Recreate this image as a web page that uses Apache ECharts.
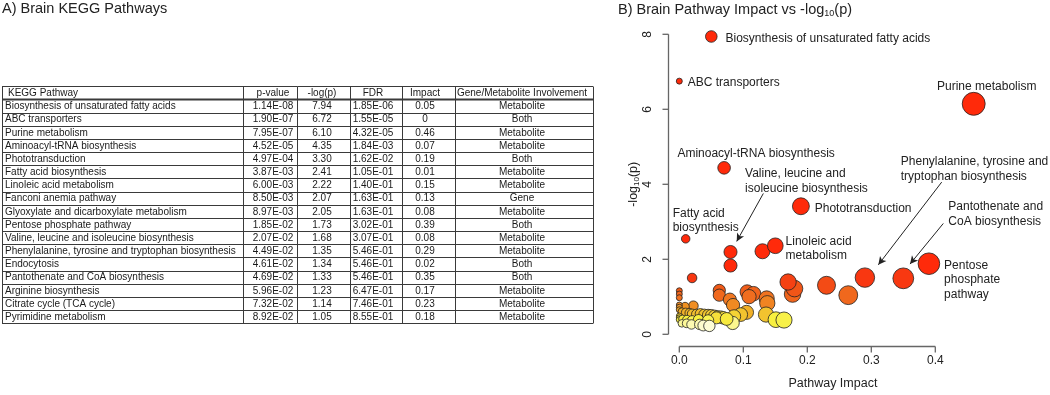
<!DOCTYPE html>
<html>
<head>
<meta charset="utf-8">
<script src="https://cdn.jsdelivr.net/npm/echarts@6/dist/echarts.min.js"></script>
<style>
  html, body { margin: 0; padding: 0; background: #fff; }
  #chart { width: 1050px; height: 395px; }
</style>
</head>
<body>
<div id="chart"></div>
<script>
// --- table / significant pathways ---
const pathways = [
  'Biosynthesis of unsaturated fatty acids', 'ABC transporters', 'Purine metabolism',
  'Aminoacyl-tRNA biosynthesis', 'Phototransduction', 'Fatty acid biosynthesis',
  'Linoleic acid metabolism', 'Fanconi anemia pathway', 'Glyoxylate and dicarboxylate metabolism',
  'Pentose phosphate pathway', 'Valine, leucine and isoleucine biosynthesis',
  'Phenylalanine, tyrosine and tryptophan biosynthesis', 'Endocytosis',
  'Pantothenate and CoA biosynthesis', 'Arginine biosynthesis', 'Citrate cycle (TCA cycle)',
  'Pyrimidine metabolism',
]
const pValues = [1.14e-8, 1.90e-7, 7.95e-7, 4.52e-5, 4.97e-4, 3.87e-3, 6.00e-3, 8.50e-3, 8.97e-3,
  1.85e-2, 2.07e-2, 4.49e-2, 4.61e-2, 4.69e-2, 5.96e-2, 7.32e-2, 8.92e-2]
const negLogP = [7.94, 6.72, 6.10, 4.35, 3.30, 2.41, 2.22, 2.07, 2.05, 1.73, 1.68, 1.35, 1.34, 1.33, 1.23, 1.14, 1.05]
const fdr = [1.85e-6, 1.55e-5, 4.32e-5, 1.84e-3, 1.62e-2, 1.05e-1, 1.40e-1, 1.63e-1, 1.63e-1,
  3.02e-1, 3.07e-1, 5.46e-1, 5.46e-1, 5.46e-1, 6.47e-1, 7.46e-1, 8.55e-1]
const impact = [0.05, 0, 0.46, 0.07, 0.19, 0.01, 0.15, 0.13, 0.08, 0.39, 0.08, 0.29, 0.02, 0.35, 0.17, 0.23, 0.18]
const involvement = ['Metabolite', 'Both', 'Metabolite', 'Metabolite', 'Both', 'Metabolite', 'Metabolite',
  'Gene', 'Metabolite', 'Both', 'Metabolite', 'Metabolite', 'Both', 'Both', 'Metabolite', 'Metabolite', 'Metabolite']
const tableHeader = ['KEGG Pathway', 'p-value', '-log(p)', 'FDR', 'Impact', 'Gene/Metabolite Involvement']

// --- remaining (non-significant) pathways ---
const otherImpact = [0.177, 0.264, 0, 0, 0, 0.0625, 0.0625, 0.079, 0.084, 0.106, 0.116, 0.109, 0.1365, 0.1375,
  0.022, 0.009, 0, 0, 0, 0.004, 0.01, 0.016, 0.02, 0.027, 0.033, 0.039, 0.045, 0.05, 0.055, 0.06, 0.065,
  0.105, 0.096, 0.0855, 0.1355, 0.151, 0.1636, 0.0834, 0.069, 0.058, 0.074, 0, 0, 0, 0.005, 0.012, 0.02,
  0.03, 0.045, 0.004, 0.0115, 0.019, 0.032, 0.0375, 0.047]
const otherNegLogP = [0.90, 0.87, 0.99, 0.90, 0.80, 1.00, 0.87, 0.75, 0.60, 0.96, 0.91, 0.83, 0.78, 0.65,
  0.58, 0.56, 0.60, 0.54, 0.47, 0.42, 0.40, 0.38, 0.36, 0.35, 0.36, 0.34, 0.33, 0.32, 0.30, 0.28, 0.27,
  0.40, 0.34, 0.29, 0.34, 0.20, 0.19, 0.11, 0.25, 0.25, 0.22, 0.30, 0.25, 0.20, 0.22, 0.20, 0.18,
  0.20, 0.18, 0.10, 0.10, 0.07, 0.07, 0.04, 0.03]

const xTicks = [0, 0.1, 0.2, 0.3, 0.4]
const yTicks = [0, 2, 4, 6, 8]

const FONT = '"Liberation Sans", Arial, sans-serif'
const INK = '#222'
const AXIS = '#666666'

const sci = v => {
  const [m, e] = v.toExponential(2).split('e')
  const n = parseInt(e, 10)
  return m + 'E' + (n < 0 ? '-' : '+') + String(Math.abs(n)).padStart(2, '0')
}

// labels next to points
const pointLabels = {
  'Biosynthesis of unsaturated fatty acids': { position: 'right', distance: 8, offset: [0, 2] },
  'ABC transporters': { position: 'right', distance: 5, offset: [0, 2] },
  'Purine metabolism': { position: 'top', distance: -2, offset: [13, 0] },
  'Aminoacyl-tRNA biosynthesis': { position: 'top', distance: 0, offset: [32, 0] },
  'Phototransduction': { position: 'right', distance: 5, offset: [0, 2] },
  'Fatty acid biosynthesis': { position: 'top', distance: -1, align: 'left', offset: [-13, 0], text: 'Fatty acid\nbiosynthesis' },
  'Linoleic acid metabolism': { position: 'right', distance: 2, offset: [0, 3], text: 'Linoleic acid\nmetabolism' },
  'Pentose phosphate pathway': { position: 'right', distance: 4, offset: [0, 16], text: 'Pentose\nphosphate\npathway' },
}

// callouts with arrows: label anchor, arrow start, arrow end (data units)
const callouts = [
  { text: 'Valine, leucine and\nisoleucine biosynthesis', at: [0.1027, 3.98], from: [0.1313, 3.65], to: [0.0897, 2.34] },
  { text: 'Phenylalanine, tyrosine and\ntryptophan biosynthesis', at: [0.346, 4.32], from: [0.410, 3.96], to: [0.311, 1.70] },
  { text: 'Pantothenate and\nCoA biosynthesis', at: [0.4203, 3.08], from: [0.4125, 2.83], to: [0.3605, 1.72] },
]

const bubbles = []
otherImpact.forEach((x, i) => bubbles.push({ value: [x, otherNegLogP[i]] }))
for (let i = pathways.length - 1; i >= 0; i--) {
  const item = { name: pathways[i], value: [impact[i], negLogP[i]] }
  const l = pointLabels[pathways[i]]
  if (l) {
    item.label = {
      show: true, position: l.position, distance: l.distance, offset: l.offset || [0, 0],
      align: l.align, formatter: l.text || pathways[i],
      color: INK, fontSize: 12, fontFamily: FONT, lineHeight: 14.5,
    }
  }
  bubbles.push(item)
}

// --- table drawn as graphic elements ---
const tbl = { top: 86.2, rowH: 13.17, edges: [2, 243, 297, 350, 402, 455, 593], centers: [null, 273, 322, 373, 425, 522] }
const graphics = []
const nRows = pathways.length + 1
for (let k = 0; k <= nRows; k++) {
  const y = Math.round(tbl.top + k * tbl.rowH) + 0.5
  graphics.push({ type: 'line', silent: true,
    shape: { x1: tbl.edges[0], y1: y, x2: tbl.edges[tbl.edges.length - 1], y2: y },
    style: { stroke: '#3a3a3a', lineWidth: k === 1 ? 2 : 1 } })
}
tbl.edges.forEach(x => graphics.push({ type: 'line', silent: true,
  shape: { x1: x + 0.5, y1: Math.round(tbl.top) + 0.5, x2: x + 0.5, y2: Math.round(tbl.top + nRows * tbl.rowH) + 0.5 },
  style: { stroke: '#3a3a3a', lineWidth: 1 } }))

const rowsText = [tableHeader].concat(pathways.map((p, i) => [
  p, sci(pValues[i]), negLogP[i].toFixed(2), sci(fdr[i]),
  impact[i] === 0 ? '0' : impact[i].toFixed(2), involvement[i],
]))
rowsText.forEach((row, r) => {
  const y = tbl.top + (r + 0.5) * tbl.rowH + 0.5
  row.forEach((txt, c) => {
    const left = c === 0
    graphics.push({ type: 'text', silent: true,
      style: {
        text: txt, x: left ? tbl.edges[0] + (r === 0 ? 6 : 3) : tbl.centers[c], y,
        fill: '#1a1a1a', font: '10px ' + FONT,
        align: left ? 'left' : 'center', verticalAlign: 'middle',
        textAlign: left ? 'left' : 'center', textVerticalAlign: 'middle',
      } })
  })
})

// data grid geometry (linear scales: value -> pixel)
const G = { left: 679.3, top: 34.3, width: 307.2, height: 300, xMax: 0.48, yMax: 8 }
const xPx = v => G.left + v / G.xMax * G.width
const yPx = v => G.top + G.height - v / G.yMax * G.height

// R-style detached axes: line spans first..last tick, set off from the data area
const AXIS_OFFSET = 11.7, TICK_LEN = 6
const axisLine = (x1, y1, x2, y2) => graphics.push({ type: 'line', silent: true, z: 100,
  shape: { x1, y1, x2, y2 }, style: { stroke: AXIS, lineWidth: 1.3 } })
const ax = Math.round(G.left - AXIS_OFFSET) + 0.5
const ay = Math.round(G.top + G.height + AXIS_OFFSET) + 0.5
axisLine(ax, yPx(yTicks[0]), ax, yPx(yTicks[yTicks.length - 1]))
yTicks.forEach(t => axisLine(ax, yPx(t), ax - TICK_LEN, yPx(t)))
axisLine(xPx(xTicks[0]), ay, xPx(xTicks[xTicks.length - 1]), ay)
xTicks.forEach(t => axisLine(xPx(t), ay, xPx(t), ay + TICK_LEN))

const chart = echarts.init(document.getElementById('chart'))
chart.setOption({
  animation: false,
  backgroundColor: '#fff',
  title: [
    { text: 'A) Brain KEGG Pathways', left: 2, top: 1, padding: 0,
      textStyle: { fontSize: 14.5, fontWeight: 'normal', color: INK, fontFamily: FONT } },
    { text: 'B) Brain Pathway Impact vs -log{s|10}(p)', left: 618, top: 1, padding: 0,
      textStyle: { fontSize: 14.5, fontWeight: 'normal', color: INK, fontFamily: FONT,
        rich: { s: { fontSize: 9, verticalAlign: 'bottom', padding: [8, 0, 0, 0], color: INK, fontFamily: FONT } } } },
  ],
  graphic: { elements: graphics },
  grid: [
    { left: G.left, top: G.top, width: G.width, height: G.height },
    { left: G.left - AXIS_OFFSET, top: G.top, width: 10, height: G.height },
    { left: G.left, top: G.top + G.height + AXIS_OFFSET - 10, width: xPx(xTicks[xTicks.length - 1]) - G.left, height: 10 },
  ],
  xAxis: [
    { gridIndex: 0, type: 'value', min: 0, max: G.xMax,
      axisLine: { show: false }, axisTick: { show: false }, axisLabel: { show: false }, splitLine: { show: false },
      name: 'Pathway Impact', nameLocation: 'middle', nameGap: 50,
      nameTextStyle: { fontSize: 12.5, color: INK, fontFamily: FONT } },
    { gridIndex: 1, type: 'value', show: false, min: 0, max: 1 },
    { gridIndex: 2, type: 'value', min: 0, max: 0.4, interval: 0.1, position: 'bottom',
      axisLine: { show: false }, axisTick: { show: false },
      axisLabel: { margin: 9, fontSize: 12, color: INK, fontFamily: FONT, formatter: v => v.toFixed(1) },
      splitLine: { show: false } },
  ],
  yAxis: [
    { gridIndex: 0, type: 'value', min: 0, max: G.yMax,
      axisLine: { show: false }, axisTick: { show: false }, axisLabel: { show: false }, splitLine: { show: false } },
    { gridIndex: 1, type: 'value', min: 0, max: 8, interval: 2, position: 'left',
      axisLine: { show: false }, axisTick: { show: false },
      axisLabel: { rotate: 90, margin: 14, fontSize: 12, color: INK, fontFamily: FONT },
      splitLine: { show: false },
      name: '-log{s|10}(p)', nameLocation: 'middle', nameRotate: 90, nameGap: 24,
      nameTextStyle: { fontSize: 12.5, color: INK, fontFamily: FONT,
        rich: { s: { fontSize: 8, verticalAlign: 'bottom', padding: [7, 0, 0, 0], color: INK, fontFamily: FONT } } } },
    { gridIndex: 2, type: 'value', show: false, min: 0, max: 1 },
  ],
  visualMap: {
    show: false, type: 'continuous', seriesIndex: 0, dimension: 1, min: 0, max: 1.6,
    inRange: { color: ['#fffff0', '#f8f040', '#f0b028', '#f08a22', '#f07020', '#f05a18', '#f44414', '#fa3210', '#ff2a0a'] },
  },
  series: [
    {
      type: 'scatter', xAxisIndex: 0, yAxisIndex: 0, clip: false,
      data: bubbles,
      symbolSize: v => 6 + 25 * Math.sqrt(v[0]),
      itemStyle: { borderColor: '#222', borderWidth: 0.8, opacity: 1 },
      emphasis: { disabled: true },
    },
    {
      type: 'scatter', xAxisIndex: 0, yAxisIndex: 0, clip: false, silent: true,
      symbolSize: 0.1, itemStyle: { color: 'rgba(0,0,0,0)', opacity: 1 },
      data: callouts.map(c => ({ name: c.text, value: c.at })),
      label: { show: true, position: 'right', distance: 0, formatter: p => p.name,
        color: INK, fontSize: 12, fontFamily: FONT, lineHeight: 14.5 },
      markLine: {
        silent: true, symbol: ['none', 'arrow'], symbolSize: [6, 8], precision: 4,
        label: { show: false },
        lineStyle: { color: INK, width: 1, type: 'solid', opacity: 1 },
        emphasis: { disabled: true },
        data: callouts.map(c => [{ coord: c.from }, { coord: c.to }]),
      },
    },
  ],
})
</script>
</body>
</html>
